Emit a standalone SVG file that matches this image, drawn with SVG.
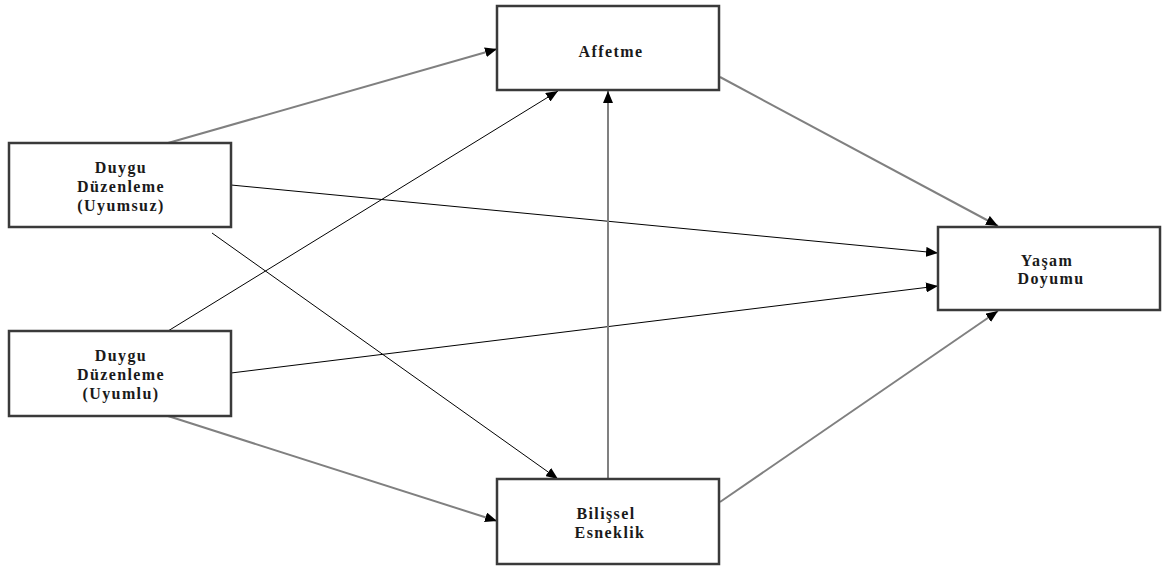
<svg xmlns="http://www.w3.org/2000/svg" width="1162" height="567" viewBox="0 0 1162 567">
<style>
.box{fill:#fff;stroke:#3a3a3a;stroke-width:2.5}
.lbl{font-family:"Liberation Serif","Times New Roman",serif;font-weight:bold;font-size:16px;letter-spacing:1.4px;fill:#1a1a1a;text-anchor:middle}
.g{stroke:#808080;stroke-width:2;fill:none}
.k{stroke:#000;stroke-width:1;fill:none}
</style>
<defs>
<marker id="ah" viewBox="0 0 12 10" refX="12" refY="5" markerWidth="12" markerHeight="10" markerUnits="userSpaceOnUse" orient="auto">
<path d="M0,0 L12,5 L0,10 Z" fill="#000"/>
</marker>
</defs>
<rect width="1162" height="567" fill="#fff"/>
<g id="connectors">
<line class="g" x1="168" y1="143" x2="497" y2="49" marker-end="url(#ah)"/>
<line class="k" x1="231" y1="185" x2="938" y2="253" marker-end="url(#ah)"/>
<line class="k" x1="212" y1="233" x2="558" y2="479" marker-end="url(#ah)"/>
<line class="k" x1="168" y1="331" x2="558" y2="91" marker-end="url(#ah)"/>
<line class="k" x1="231" y1="373" x2="938" y2="286" marker-end="url(#ah)"/>
<line class="g" x1="168" y1="416" x2="497" y2="521" marker-end="url(#ah)"/>
<line class="g" x1="608" y1="479" x2="608" y2="91" marker-end="url(#ah)"/>
<line class="g" x1="720" y1="77" x2="998" y2="226" marker-end="url(#ah)"/>
<line class="g" x1="720" y1="502" x2="998" y2="311" marker-end="url(#ah)"/>
</g>
<g id="uyumsuz">
<rect class="box" x="9" y="143" width="222" height="84"/>
<text class="lbl" x="121" y="173">Duygu</text>
<text class="lbl" x="121" y="192">Düzenleme</text>
<text class="lbl" x="121" y="211">(Uyumsuz)</text>
</g>
<g id="uyumlu">
<rect class="box" x="9" y="331" width="222" height="85"/>
<text class="lbl" x="121" y="361">Duygu</text>
<text class="lbl" x="121" y="380">Düzenleme</text>
<text class="lbl" x="121" y="399">(Uyumlu)</text>
</g>
<g id="affetme">
<rect class="box" x="497" y="6" width="222" height="84"/>
<text class="lbl" x="611" y="57">Affetme</text>
</g>
<g id="bilissel">
<rect class="box" x="497" y="479" width="222" height="85"/>
<text class="lbl" x="606" y="519">Bilişsel</text>
<text class="lbl" x="610" y="538">Esneklik</text>
</g>
<g id="yasam">
<rect class="box" x="938" y="227" width="222" height="83"/>
<text class="lbl" x="1047" y="266">Yaşam</text>
<text class="lbl" x="1051" y="284">Doyumu</text>
</g>
</svg>
